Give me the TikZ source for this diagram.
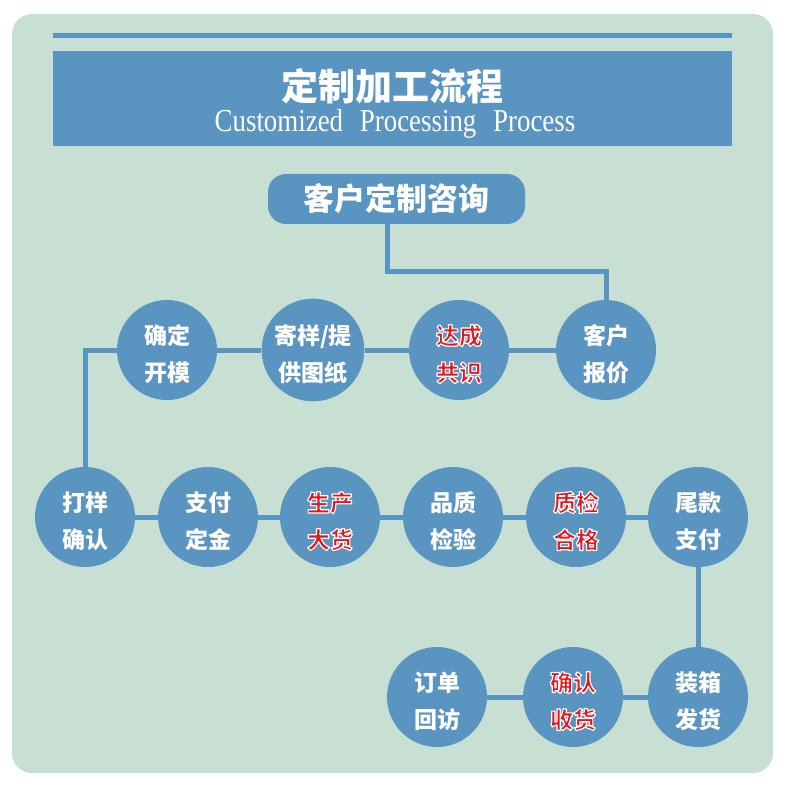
\documentclass[tikz,border=0pt]{standalone}
\usepackage{fontspec}
\setmainfont{Liberation Serif}
\newfontfamily\cjk{Noto Sans CJK SC}
\definecolor{bgg}{HTML}{C8E0D3}
\definecolor{blu}{HTML}{5A94C1}
\definecolor{rd}{HTML}{E8161C}
\pgfdeclarelayer{bglayer}
\pgfdeclarelayer{lnlayer}
\pgfsetlayers{bglayer,lnlayer,main}
\newcommand\redt[1]{{\color{rd}\special{pdf:code q 2 Tr 1.2 w 1 j 1 J 1 1 1 RG}#1\special{pdf:code Q}}}
\newcommand\tstrut{\rule{0pt}{28pt}}
\tikzset{
  stepcircle/.style={circle, fill=blu, minimum size=100pt, inner sep=0pt, align=center,
    text=white, font=\cjk\bfseries\fontsize{23}{37}\selectfont},
  conn/.style={draw=blu, line width=5pt},
}
\begin{document}
\begin{tikzpicture}[x=1pt,y=-1pt]
\useasboundingbox (0,0) rectangle (785,786);
\begin{pgfonlayer}{bglayer}
\fill[white] (0,0) rectangle (785,786);
\fill[bgg, rounded corners=20pt] (12,14) rectangle (773,773);
\fill[blu] (53,33) rectangle (732,38);
\fill[blu] (53,51) rectangle (732,146);
\end{pgfonlayer}
\node (title) at (392.5,86) {\cjk\bfseries\fontsize{37}{40}\selectfont\color{white}定制加工流程};
\node (subtitle) at (395,124) {\fontsize{32}{34}\selectfont\color{white}\scalebox{0.84}[1]{Customized\hspace{20pt}Processing\hspace{20pt}Process}};
\node[rectangle, rounded corners=18pt, fill=blu, minimum width=257pt, minimum height=50pt, inner sep=0pt,
  text=white, font=\cjk\bfseries\fontsize{31}{34}\selectfont] (btn) at (396.5,199) {客户定制咨询};
% row 1
\node[stepcircle] (qd) at (167,350) {\tstrut{}确定\\开模};
\node[stepcircle] (jy) at (313,350) {\tstrut{}寄样/提\\供图纸};
\node[stepcircle] (dc) at (459,350) {\tstrut{}\redt{达成}\\\redt{共识}};
\node[stepcircle] (kh) at (606,350) {\tstrut{}客户\\报价};
% row 2
\node[stepcircle] (dy) at (85,517) {\tstrut{}打样\\确认};
\node[stepcircle] (zf) at (208,517) {\tstrut{}支付\\定金};
\node[stepcircle] (sc) at (330,517) {\tstrut{}\redt{生产}\\\redt{大货}};
\node[stepcircle] (pz) at (453,517) {\tstrut{}品质\\检验};
\node[stepcircle] (zj) at (576,517) {\tstrut{}\redt{质检}\\\redt{合格}};
\node[stepcircle] (wk) at (698,517) {\tstrut{}尾款\\支付};
% row 3
\node[stepcircle] (dd) at (437,697) {\tstrut{}订单\\回访};
\node[stepcircle] (qr) at (573,697) {\tstrut{}\redt{确认}\\\redt{收货}};
\node[stepcircle] (zx) at (698,697) {\tstrut{}装箱\\发货};
\begin{pgfonlayer}{lnlayer}
\draw[conn] ([xshift=-9.5pt]btn.south) -- ++(0,47) -| (kh.north);
\draw[conn] (kh) -- (dc) -- (jy) -- (qd);
\draw[conn] (qd) -| (dy);
\draw[conn] (dy) -- (zf) -- (sc) -- (pz) -- (zj) -- (wk) -- (zx) -- (qr) -- (dd);
\end{pgfonlayer}
\end{tikzpicture}
\end{document}
